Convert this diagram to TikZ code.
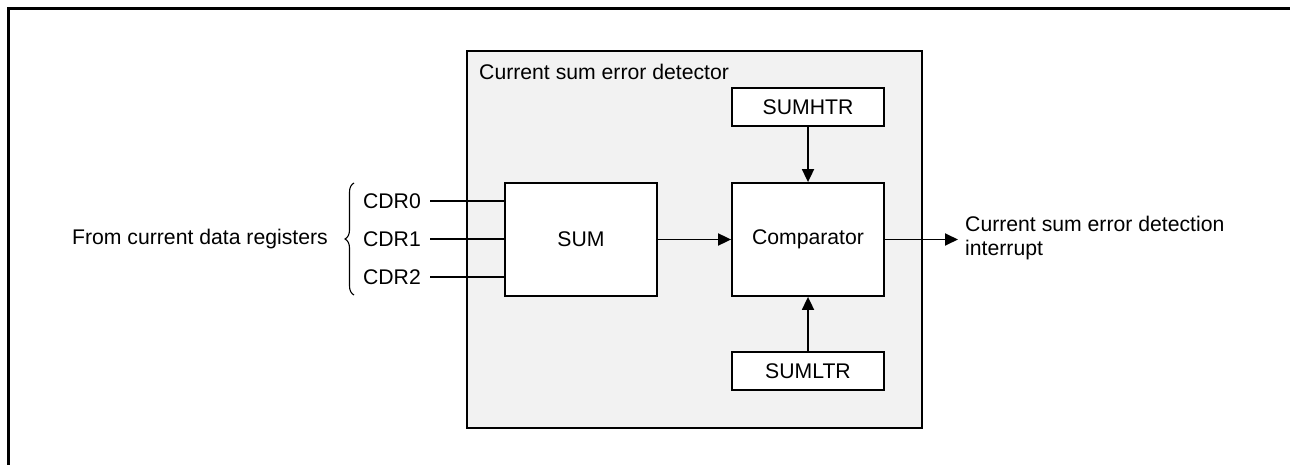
\documentclass[tikz,border=0pt]{standalone}
\usepackage{fontspec}
\setmainfont{Liberation Sans}
\usetikzlibrary{arrows.meta,decorations.pathreplacing}
\definecolor{panelgray}{RGB}{242,242,242}
\begin{document}
\begin{tikzpicture}[x=1pt,y=-1pt,
  every node/.style={font=\fontsize{21.2}{24}\selectfont},
  blk/.style={draw=black,fill=white,line width=1.8pt,inner sep=0pt},
  lbl/.style={inner sep=0pt},
  conn/.style={line width=1.8pt},
  arr/.style={line width=1.8pt,-{Triangle[length=13pt,width=12pt]}}
]
\useasboundingbox (0,0) rectangle (1290,465);
% outer frame (clipped at right and bottom)
\draw[line width=3pt] (1290,9) -- (8,9) -- (8,465);
% detector panel
\node[draw=black,fill=panelgray,line width=1.8pt,minimum width=455pt,minimum height=377pt,inner sep=0pt] (det) at (694.5,239.5) {};
\node[lbl,anchor=base west] (title) at (479,80) {Current sum error detector};
% blocks
\node[blk,minimum width=152pt,minimum height=113pt] (sum) at (581,239.5) {SUM};
\node[blk,minimum width=152pt,minimum height=113pt] (comp) at (808,239.5) {Comparator};
\node[blk,minimum width=152pt,minimum height=38pt] (htr) at (808,107) {SUMHTR};
\node[blk,minimum width=152pt,minimum height=38pt] (ltr) at (808,371) {SUMLTR};
% inputs
\node[lbl,anchor=east] (cdr0) at (421,201) {CDR0};
\node[lbl,anchor=east] (cdr1) at (421,239) {CDR1};
\node[lbl,anchor=east] (cdr2) at (421,277) {CDR2};
\node[lbl,anchor=east] (from) at (328,239) {From current data registers};
\coordinate (b1) at (354,295);
\coordinate (b2) at (354,183);
\draw[line width=1.1pt,decorate,decoration={brace,amplitude=9pt}] (b1) -- (b2);
\draw[conn] ([xshift=9pt]cdr0.east) -- (sum.west |- cdr0.east);
\draw[conn] ([xshift=9pt]cdr1.east) -- (sum.west |- cdr1.east);
\draw[conn] ([xshift=9pt]cdr2.east) -- (sum.west |- cdr2.east);
% connections
\draw[arr] (sum.east) -- (comp.west);
\draw[arr] (htr.south) -- (comp.north);
\draw[arr] (ltr.north) -- (comp.south);
\node[lbl,anchor=west,align=left] (out) at (965,238) {Current sum error detection\\interrupt};
\coordinate (outtip) at ([xshift=-7pt]out.west |- comp.east);
\draw[arr] (comp.east) -- (outtip);
\end{tikzpicture}
\end{document}
